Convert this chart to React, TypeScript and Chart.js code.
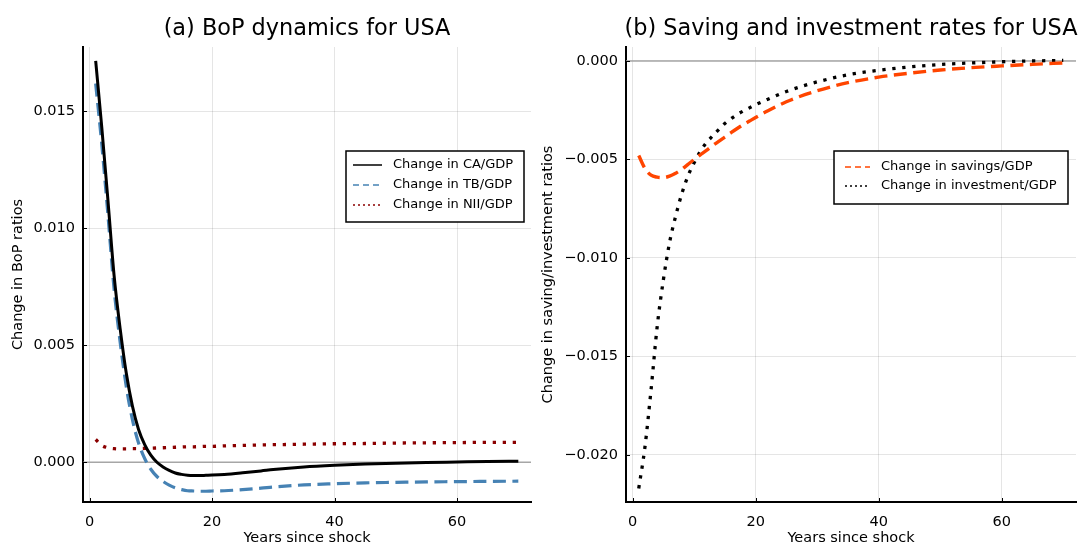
import React, { useEffect, useRef } from "react";
import { Chart, registerables } from "chart.js";

Chart.register(...registerables);

// ---------- data ----------
const years = [1, 2, 3, 4, 5, 6, 7, 8, 9, 10, 11, 12, 13, 14, 15, 16, 17, 18, 19, 20, 22, 25, 28, 30, 35, 40, 45, 50, 55, 60, 65, 70];

const caGdp = [0.01716, 0.0143, 0.0112, 0.008, 0.0057, 0.0038, 0.0024, 0.0014, 0.00075, 0.0003, 0.0, -0.0002, -0.00035, -0.00046, -0.00052, -0.00056, -0.00057, -0.00057, -0.00056, -0.00055, -0.00052, -0.00045, -0.00037, -0.00031, -0.0002, -0.00013, -0.00008, -0.00004, -0.00001, 0.00001, 0.00003, 0.00004];

const tbGdp = [0.01619, 0.01358, 0.01058, 0.00742, 0.00513, 0.00323, 0.00182, 0.00082, 0.00016, -0.0003, -0.00061, -0.00082, -0.00098, -0.0011, -0.00117, -0.00122, -0.00123, -0.00124, -0.00124, -0.00123, -0.00122, -0.00117, -0.00111, -0.00106, -0.00097, -0.00092, -0.00088, -0.00086, -0.00084, -0.00083, -0.00082, -0.00081];

const niiGdp = [0.00097, 0.00072, 0.00062, 0.00058, 0.00057, 0.00057, 0.00058, 0.00058, 0.00059, 0.0006, 0.00061, 0.00062, 0.00063, 0.00064, 0.00065, 0.00066, 0.00066, 0.00067, 0.00068, 0.00068, 0.0007, 0.00072, 0.00074, 0.00075, 0.00077, 0.00079, 0.0008, 0.00082, 0.00083, 0.00084, 0.00085, 0.00085];

const savingsGdp = [-0.0048, -0.00545, -0.0058, -0.0059, -0.00592, -0.00585, -0.0057, -0.0055, -0.00525, -0.005, -0.00477, -0.00454, -0.0043, -0.00408, -0.00386, -0.00364, -0.00343, -0.00323, -0.00305, -0.00287, -0.00253, -0.00207, -0.00171, -0.00151, -0.0011, -0.00082, -0.00062, -0.00046, -0.00034, -0.00025, -0.00017, -0.0001];

const investmentGdp = [-0.0217, -0.01962, -0.0167, -0.01348, -0.01112, -0.00923, -0.00788, -0.00674, -0.00584, -0.00517, -0.0046, -0.00415, -0.00381, -0.00348, -0.00317, -0.00293, -0.00272, -0.00254, -0.00238, -0.00222, -0.00194, -0.00155, -0.00124, -0.00106, -0.0007, -0.00047, -0.0003, -0.00018, -0.0001, -0.00004, 0.0, 0.00003];

const xTicks = [0, 20, 40, 60];
const leftYTicks = [0, 0.005, 0.01, 0.015];
const rightYTicks = [0, -0.005, -0.01, -0.015, -0.02];

const titleLeft = "(a) BoP dynamics for USA";
const titleRight = "(b) Saving and investment rates for USA";
const xTitle = "Years since shock";
const yTitleLeft = "Change in BoP ratios";
const yTitleRight = "Change in saving/investment ratios";

const labelsLeft = ["Change in CA/GDP", "Change in TB/GDP", "Change in NII/GDP"];
const labelsRight = ["Change in savings/GDP", "Change in investment/GDP"];

// ---------- styling ----------
const FONT = '"DejaVu Sans", "Liberation Sans", sans-serif';
const SOLID: number[] = [];
const DASH = [13, 6.5];
const DOT = [3.3, 6.7];

type Series = { label: string; values: number[]; color: string; dash: number[]; width: number; legendDash: number[] };

type PanelCfg = {
  title: string;
  yTitle: string;
  yTitleX: number;
  series: Series[];
  yTicks: number[];
  yMin: number;
  yMax: number;
  yAxisWidth: number;
  padRight: number;
  legend: { x: number; y: number; w: number; h: number; sampleX0: number; sampleX1: number; textX: number; rowY: number[] };
};

const fmt = (v: number) => (v < 0 ? "\u2212" : "") + Math.abs(v).toFixed(3);

function makeDecor(cfg: PanelCfg) {
  return {
    id: "decor",
    beforeDatasetsDraw(chart: any) {
      const { ctx, chartArea: a, scales } = chart;
      const y0 = scales.y.getPixelForValue(0);
      ctx.save();
      ctx.strokeStyle = "#a6a6a6";
      ctx.lineWidth = 1.5;
      ctx.beginPath();
      ctx.moveTo(a.left, y0);
      ctx.lineTo(a.right, y0);
      ctx.stroke();
      ctx.restore();
    },
    afterDraw(chart: any) {
      const { ctx, chartArea: a, scales } = chart;
      ctx.save();
      // inward tick marks
      ctx.strokeStyle = "#000";
      ctx.lineWidth = 1;
      ctx.beginPath();
      for (const t of xTicks) {
        const px = Math.round(scales.x.getPixelForValue(t)) + 0.5;
        ctx.moveTo(px, a.bottom);
        ctx.lineTo(px, a.bottom - 4);
      }
      for (const t of cfg.yTicks) {
        const py = Math.round(scales.y.getPixelForValue(t)) + 0.5;
        ctx.moveTo(a.left, py);
        ctx.lineTo(a.left + 4, py);
      }
      ctx.stroke();

      ctx.fillStyle = "#000";
      // title
      ctx.font = `22.4px ${FONT}`;
      ctx.textAlign = "center";
      ctx.textBaseline = "middle";
      ctx.fillText(cfg.title, (a.left + a.right) / 2, 29);
      // x title
      ctx.font = `14.5px ${FONT}`;
      ctx.fillText(xTitle, (a.left + a.right) / 2, 538);
      // y title
      ctx.save();
      ctx.translate(cfg.yTitleX, (a.top + a.bottom) / 2);
      ctx.rotate(-Math.PI / 2);
      ctx.fillText(cfg.yTitle, 0, 0);
      ctx.restore();

      // legend
      const L = cfg.legend;
      ctx.fillStyle = "#fff";
      ctx.fillRect(L.x, L.y, L.w, L.h);
      ctx.strokeStyle = "#000";
      ctx.lineWidth = 1.5;
      ctx.strokeRect(L.x, L.y, L.w, L.h);
      ctx.font = `13px ${FONT}`;
      ctx.textAlign = "left";
      ctx.textBaseline = "middle";
      cfg.series.forEach((s, i) => {
        const ry = L.rowY[i];
        ctx.strokeStyle = s.color;
        ctx.lineWidth = 1.5;
        ctx.setLineDash(s.legendDash);
        ctx.beginPath();
        ctx.moveTo(L.sampleX0, ry);
        ctx.lineTo(L.sampleX1, ry);
        ctx.stroke();
        ctx.setLineDash([]);
        ctx.fillStyle = "#000";
        ctx.fillText(s.label, L.textX, ry);
      });
      ctx.restore();
    },
  };
}

function Panel({ cfg }: { cfg: PanelCfg }) {
  const ref = useRef<HTMLCanvasElement | null>(null);
  useEffect(() => {
    if (!ref.current) return;
    const chart = new Chart(ref.current, {
      type: "line",
      data: {
        datasets: cfg.series.map((s) => ({
          label: s.label,
          data: years.map((x, i) => ({ x, y: s.values[i] })),
          borderColor: s.color,
          backgroundColor: s.color,
          borderWidth: s.width,
          borderDash: s.dash,
          borderCapStyle: "butt" as const,
          pointRadius: 0,
          cubicInterpolationMode: "monotone" as const,
          fill: false,
        })),
      },
      options: {
        responsive: false,
        animation: false,
        events: [],
        layout: { padding: { left: 0, right: cfg.padRight, top: 47, bottom: 0 } },
        plugins: { legend: { display: false }, tooltip: { enabled: false }, title: { display: false } },
        scales: {
          x: {
            type: "linear",
            min: -1.07,
            max: 72.07,
            afterFit: (s: any) => {
              s.height = 42;
            },
            afterBuildTicks: (s: any) => {
              s.ticks = xTicks.map((v) => ({ value: v }));
            },
            ticks: {
              color: "#000",
              padding: 12,
              maxRotation: 0,
              autoSkip: false,
              font: { family: FONT, size: 14.5 },
              callback: (v: any) => String(v),
            },
            grid: { color: "rgba(0,0,0,0.1)", lineWidth: 1, drawTicks: false },
            border: { display: true, color: "#000", width: 2 },
          },
          y: {
            type: "linear",
            min: cfg.yMin,
            max: cfg.yMax,
            afterFit: (s: any) => {
              s.width = cfg.yAxisWidth;
            },
            afterBuildTicks: (s: any) => {
              s.ticks = cfg.yTicks.map((v) => ({ value: v }));
            },
            ticks: {
              color: "#000",
              padding: 8,
              autoSkip: false,
              font: { family: FONT, size: 14.5 },
              callback: (v: any) => fmt(Number(v)),
            },
            grid: { color: "rgba(0,0,0,0.1)", lineWidth: 1, drawTicks: false },
            border: { display: true, color: "#000", width: 2 },
          },
        },
      },
      plugins: [makeDecor(cfg)],
    });
    return () => chart.destroy();
  }, [cfg]);
  return <canvas ref={ref} width={540} height={544} style={{ display: "block", width: 540, height: 544 }} />;
}

const leftCfg: PanelCfg = {
  title: titleLeft,
  yTitle: yTitleLeft,
  yTitleX: 18,
  yTicks: leftYTicks,
  yMin: -0.0017,
  yMax: 0.01775,
  yAxisWidth: 83,
  padRight: 9,
  series: [
    { label: labelsLeft[0], values: caGdp, color: "#000000", dash: SOLID, width: 3, legendDash: [] },
    { label: labelsLeft[1], values: tbGdp, color: "#4682B4", dash: DASH, width: 3.2, legendDash: [6, 4] },
    { label: labelsLeft[2], values: niiGdp, color: "#8B0000", dash: DOT, width: 3.3, legendDash: [2, 3] },
  ],
  legend: { x: 346, y: 151, w: 178, h: 71, sampleX0: 353, sampleX1: 382, textX: 393, rowY: [165, 185, 205] },
};

const rightCfg: PanelCfg = {
  title: titleRight,
  yTitle: yTitleRight,
  yTitleX: 8,
  yTicks: rightYTicks,
  yMin: -0.02239,
  yMax: 0.00071,
  yAxisWidth: 86,
  padRight: 4,
  series: [
    { label: labelsRight[0], values: savingsGdp, color: "#FF4500", dash: DASH, width: 3.4, legendDash: [6, 4] },
    { label: labelsRight[1], values: investmentGdp, color: "#000000", dash: DOT, width: 3.3, legendDash: [2, 3] },
  ],
  legend: { x: 294, y: 151, w: 234, h: 53, sampleX0: 305, sampleX1: 330, textX: 341, rowY: [167, 186] },
};

export default function App() {
  return (
    <div style={{ position: "absolute", left: 0, top: 0, width: 1080, height: 544, display: "flex", background: "#fff" }}>
      <Panel cfg={leftCfg} />
      <Panel cfg={rightCfg} />
    </div>
  );
}
